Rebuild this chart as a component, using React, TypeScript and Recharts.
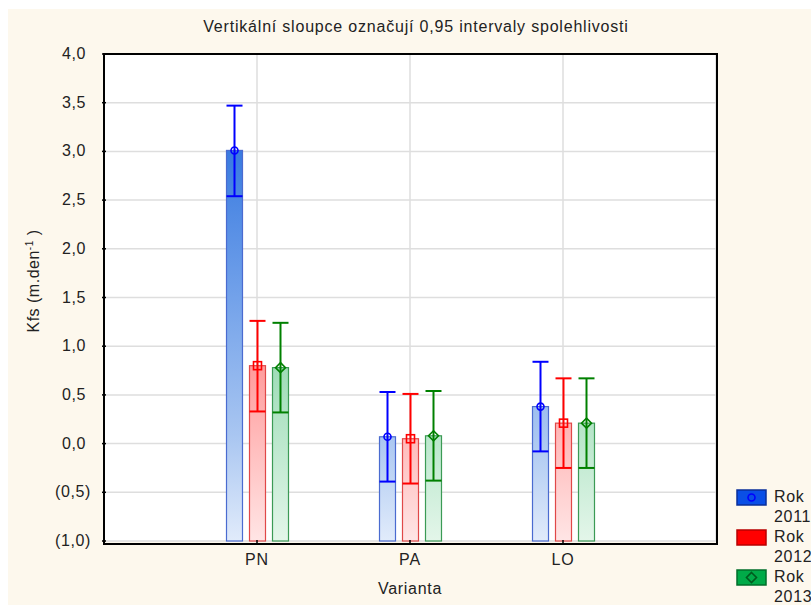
import { BarChart, Bar, XAxis, YAxis, CartesianGrid } from 'recharts';

// Kfs per variant and year: mean with 0.95 confidence interval bounds
const categories = ['PN', 'PA', 'LO'];
const years = ['2011', '2012', '2013'];
const mean2011 = [3.01, 0.07, 0.38];
const low2011 = [2.54, -0.39, -0.08];
const high2011 = [3.47, 0.53, 0.84];
const mean2012 = [0.8, 0.05, 0.21];
const low2012 = [0.33, -0.41, -0.25];
const high2012 = [1.26, 0.51, 0.67];
const mean2013 = [0.78, 0.08, 0.21];
const low2013 = [0.32, -0.38, -0.25];
const high2013 = [1.24, 0.54, 0.67];
const yTicks = [-1, -0.5, 0, 0.5, 1, 1.5, 2, 2.5, 3, 3.5, 4];

const Y_MIN = -1;
const Y_MAX = 4;
const FONT = '"Liberation Sans", Arial, sans-serif';
const TEXT = '#222';

const data = categories.map((cat, i) => ({
  cat,
  m2011: mean2011[i], l2011: low2011[i], h2011: high2011[i],
  m2012: mean2012[i], l2012: low2012[i], h2012: high2012[i],
  m2013: mean2013[i], l2013: low2013[i], h2013: high2013[i],
}));

const series = [
  { year: '2011', line: '#0000ff', edge: '#4a6bd0', marker: 'circle', swatch: '#0a4fe6', swatchEdge: '#0a2f9a', mark: '#0000ff' },
  { year: '2012', line: '#ff0000', edge: '#e04848', marker: 'square', swatch: '#ff0000', swatchEdge: '#b80000', mark: '#ff0000' },
  { year: '2013', line: '#008000', edge: '#3b9a55', marker: 'diamond', swatch: '#00aa48', swatchEdge: '#006e2a', mark: '#005a1e' },
];

const fmt = (v: number) => {
  const s = Math.abs(v).toFixed(1).replace('.', ',');
  return v < 0 ? `(${s})` : s;
};

function Marker({ type, cx, cy, color }: any) {
  if (type === 'circle') return <circle cx={cx} cy={cy} r={3.5} fill="none" stroke={color} strokeWidth={1.6} />;
  if (type === 'square') return <rect x={cx - 4} y={cy - 4} width={8} height={8} fill="none" stroke={color} strokeWidth={1.6} />;
  return (
    <polygon
      points={`${cx},${cy - 5} ${cx + 5},${cy} ${cx},${cy + 5} ${cx - 5},${cy}`}
      fill="none"
      stroke={color}
      strokeWidth={1.6}
    />
  );
}

// bar from the bottom of the axis up to the mean, with the CI whisker drawn over it
function CiBar(props: any) {
  const { x, y, width, height, payload, year, line, edge, marker } = props;
  const mean = payload['m' + year];
  const ppu = height / (mean - Y_MIN);
  const toY = (v: number) => y + (mean - v) * ppu;
  const yHi = toY(payload['h' + year]);
  const yLo = toY(payload['l' + year]);
  const cx = x + width / 2;
  return (
    <g>
      <rect x={x} y={y} width={width} height={height} fill={`url(#grad${year})`} stroke={edge} strokeWidth={1.2} />
      <line x1={cx} x2={cx} y1={yHi} y2={yLo} stroke={line} strokeWidth={2} />
      <line x1={x} x2={x + width} y1={yHi} y2={yHi} stroke={line} strokeWidth={2} />
      <line x1={x} x2={x + width} y1={yLo} y2={yLo} stroke={line} strokeWidth={2} />
      <Marker type={marker} cx={cx} cy={y} color={line} />
    </g>
  );
}

function YTick({ x, y, payload }: any) {
  const v = payload.value;
  return (
    <g>
      <line x1={x} x2={x + 4} y1={y} y2={y} stroke="#000" strokeWidth={1.5} />
      <text x={v < 0 ? x - 11 : x - 16} y={y} dy={5} textAnchor="end" fontSize={16} fontFamily={FONT} fill={TEXT} letterSpacing={0.6}>
        {fmt(v)}
      </text>
    </g>
  );
}

function XTick({ x, y, payload }: any) {
  return (
    <g>
      <line x1={x} x2={x} y1={y} y2={y - 3} stroke="#000" strokeWidth={1.5} />
      <text x={x} y={y} dy={22} textAnchor="middle" fontSize={16} fontFamily={FONT} fill={TEXT} letterSpacing={0.8}>
        {payload.value}
      </text>
    </g>
  );
}

export default function App() {
  return (
    <div style={{ position: 'fixed', left: 0, top: 0, width: 811, height: 605, background: '#fff', overflow: 'hidden' }}>
      <div style={{ position: 'absolute', left: 8, top: 9, right: 0, bottom: 0, background: '#fdf8ed' }} />
      <div
        style={{
          position: 'absolute', left: 0, width: 832, top: 18, textAlign: 'center',
          fontFamily: FONT, fontSize: 16, color: TEXT, letterSpacing: 0.8,
        }}
      >
        Vertikální sloupce označují 0,95 intervaly spolehlivosti
      </div>
      <div style={{ position: 'absolute', left: 0, top: 0 }}>
        <BarChart
          width={811}
          height={605}
          data={data}
          margin={{ top: 54, right: 95, left: 54, bottom: 32 }}
          barSize={16}
          barGap={7}
        >
          <defs>
            <linearGradient id="grad2011" gradientUnits="userSpaceOnUse" x1="0" y1="54" x2="0" y2="543">
              <stop offset="0" stopColor="#1f5fd8" />
              <stop offset="0.2" stopColor="#3a7be0" />
              <stop offset="0.5" stopColor="#73a2ea" />
              <stop offset="0.78" stopColor="#a9c6f1" />
              <stop offset="1" stopColor="#e2ecfb" />
            </linearGradient>
            <linearGradient id="grad2012" gradientUnits="userSpaceOnUse" x1="0" y1="54" x2="0" y2="543">
              <stop offset="0" stopColor="#ff4c4c" />
              <stop offset="0.64" stopColor="#ff9c9c" />
              <stop offset="0.8" stopColor="#ffbdbd" />
              <stop offset="1" stopColor="#ffe6e6" />
            </linearGradient>
            <linearGradient id="grad2013" gradientUnits="userSpaceOnUse" x1="0" y1="54" x2="0" y2="543">
              <stop offset="0" stopColor="#40b46c" />
              <stop offset="0.64" stopColor="#9fdcb7" />
              <stop offset="0.8" stopColor="#bde8ce" />
              <stop offset="1" stopColor="#e4f6ea" />
            </linearGradient>
          </defs>
          <CartesianGrid stroke="#dedede" strokeWidth={1.5} fill="#fff" />
          <XAxis
            dataKey="cat"
            padding={{ left: 76.5, right: 76.5 }}
            axisLine={false}
            tickLine={false}
            tickSize={0}
            tick={<XTick />}
            height={32}
          />
          <YAxis
            domain={[Y_MIN, Y_MAX]}
            ticks={yTicks}
            interval={0}
            axisLine={false}
            tickLine={false}
            tickSize={0}
            width={50}
            tick={<YTick />}
          />
          {series.map((s) => (
            <Bar
              key={s.year}
              dataKey={(d: any) => [Y_MIN, d['m' + s.year]]}
              isAnimationActive={false}
              shape={(p: any) => <CiBar {...p} {...s} />}
            />
          ))}
        </BarChart>
      </div>
      {/* plot frame */}
      <div
        style={{
          position: 'absolute', left: 103, top: 53, width: 615, height: 492,
          boxSizing: 'border-box', border: '2px solid #000', pointerEvents: 'none',
        }}
      />
      <div
        style={{
          position: 'absolute', left: 0, top: 580, width: 820, textAlign: 'center',
          fontFamily: FONT, fontSize: 16, color: TEXT, letterSpacing: 0.7,
        }}
      >
        Varianta
      </div>
      <svg style={{ position: 'absolute', left: 0, top: 0 }} width={60} height={605}>
        <text
          transform="translate(39,281) rotate(-90)"
          textAnchor="middle"
          fontSize={16}
          fontFamily={FONT}
          fill={TEXT}
          letterSpacing={0.5}
        >
          Kfs (m.den
          <tspan fontSize={10} dy={-6}>-1</tspan>
          <tspan dy={6}> )</tspan>
        </text>
      </svg>
      {series.map((s, i) => (
        <div key={s.year} style={{ position: 'absolute', left: 736, top: 489 + i * 40, display: 'flex' }}>
          <svg width={32} height={18}>
            <rect x={1} y={1} width={29} height={15} fill={s.swatch} stroke={s.swatchEdge} strokeWidth={1.5} />
            <Marker type={s.marker} cx={15.5} cy={8.5} color={s.mark} />
          </svg>
          <div style={{ marginLeft: 6, marginTop: -2, fontFamily: FONT, fontSize: 16, lineHeight: '20px', color: TEXT, letterSpacing: 0.7 }}>
            Rok
            <br />
            {years[i]}
          </div>
        </div>
      ))}
    </div>
  );
}
